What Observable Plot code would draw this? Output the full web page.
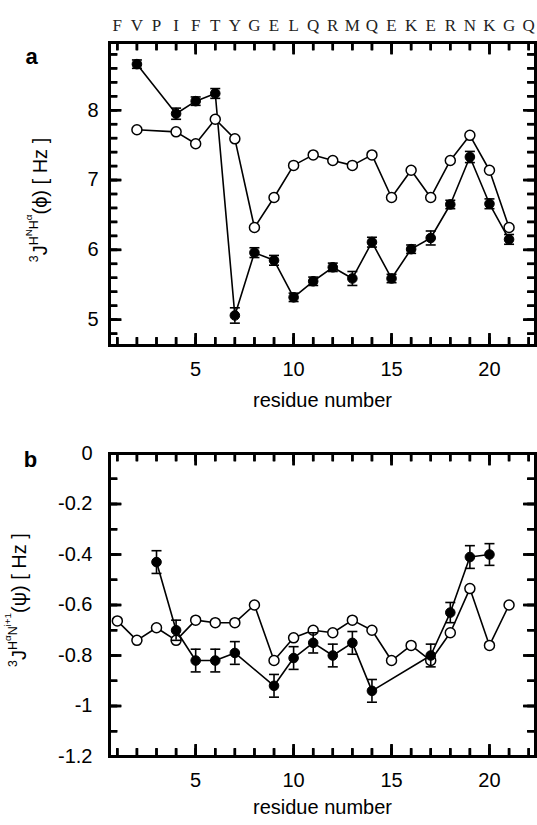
<!DOCTYPE html>
<html><head><meta charset="utf-8">
<script src="https://cdn.jsdelivr.net/npm/d3@7"></script>
<script src="https://cdn.jsdelivr.net/npm/@observablehq/plot@0.6"></script>
<style>
body{margin:0;background:#fff;}
#wrap{position:relative;width:537px;height:825px;font-family:"Liberation Sans",Arial,sans-serif;color:#000;}
.panel{position:absolute;left:0;}
.ylab{position:absolute;transform:translate(-50%,-50%) rotate(-90deg);white-space:nowrap;font-size:20px;line-height:1;}
.ylab sup{font-size:0.62em;vertical-align:0.75em;line-height:0;}
.ylab sup sup{font-size:0.8em;vertical-align:0.55em;}
</style></head>
<body><div id="wrap"></div>
<script>
// ---- data ----
const sequence = "FVPIFTYGELQRMQEKERNKGQ".split("");
const seqResidue = [1,2,3,4,5,6,7,8,9,10,11,12,13,14,15,16,17,18,19,20,21,22];

const phiResidue = [2,4,5,6,7,8,9,10,11,12,13,14,15,16,17,18,19,20,21];
const phiExp  = [8.66,7.95,8.13,8.24,5.06,5.96,5.85,5.32,5.55,5.75,5.59,6.11,5.59,6.01,6.17,6.65,7.33,6.66,6.15];
const phiErr  = [0.06,0.08,0.06,0.07,0.11,0.07,0.07,0.06,0.06,0.06,0.10,0.07,0.06,0.06,0.10,0.06,0.08,0.07,0.07];
const phiCalc = [7.72,7.69,7.52,7.87,7.59,6.32,6.75,7.21,7.36,7.28,7.21,7.36,6.75,7.14,6.75,7.28,7.64,7.14,6.32];

const psiExpResidue = [3,4,5,6,7,9,10,11,12,13,14,17,18,19,20];
const psiExp = [-0.43,-0.70,-0.82,-0.82,-0.79,-0.92,-0.81,-0.75,-0.80,-0.75,-0.94,-0.80,-0.63,-0.41,-0.40];
const psiErr = [0.045,0.04,0.045,0.045,0.045,0.045,0.045,0.04,0.045,0.045,0.045,0.045,0.04,0.045,0.043];
const psiCalcResidue = [1,2,3,4,5,6,7,8,9,10,11,12,13,14,15,16,17,18,19,20,21];
const psiCalc = [-0.663,-0.74,-0.69,-0.74,-0.66,-0.67,-0.67,-0.60,-0.82,-0.73,-0.70,-0.71,-0.66,-0.70,-0.82,-0.76,-0.82,-0.71,-0.535,-0.76,-0.60];

const xMinorTicks = [1,2,3,4,5,6,7,8,9,10,11,12,13,14,15,16,17,18,19,20,21,22];
const xMajorTicks = [5,10,15,20];
const phiMinorTicks = [4.8,5.0,5.2,5.4,5.6,5.8,6.0,6.2,6.4,6.6,6.8,7.0,7.2,7.4,7.6,7.8,8.0,8.2,8.4,8.6,8.8];
const phiMajorTicks = [5,6,7,8];
const psiMinorTicks = [-0.1,-0.2,-0.3,-0.4,-0.5,-0.6,-0.7,-0.8,-0.9,-1.0,-1.1];
const psiMajorTicks = [0,-0.2,-0.4,-0.6,-0.8,-1,-1.2];

// ---- helpers ----
const phiRows = phiResidue.map((r,i)=>({r, exp: phiExp[i], err: phiErr[i], calc: phiCalc[i]}));
const psiExpRows = psiExpResidue.map((r,i)=>({r, exp: psiExp[i], err: psiErr[i]}));
const psiCalcRows = psiCalcResidue.map((r,i)=>({r, calc: psiCalc[i]}));
const seqRows = sequence.map((s,i)=>({r: seqResidue[i], s}));

const len = s => Math.sqrt(s/Math.PI);
const capSymbol = {draw(c, s){ const w = len(s); c.moveTo(-w,0); c.lineTo(w,0); }};
const tickUp    = {draw(c, s){ c.moveTo(0,0); c.lineTo(0,-len(s)); }};
const tickDown  = {draw(c, s){ c.moveTo(0,0); c.lineTo(0, len(s)); }};
const tickRight = {draw(c, s){ c.moveTo(0,0); c.lineTo( len(s),0); }};
const tickLeft  = {draw(c, s){ c.moveTo(0,0); c.lineTo(-len(s),0); }};
const TW = 2.5, MINOR = 8, MAJOR = 12;
const W = 537, ML = 109, MR = 2, FW = W - ML - MR, FH = 303;
const xDomain = [0.6, 22.35];
const phiDomain = [4.63, 8.97];
const psiDomain = [-1.2, 0];
const ident = d => d;

function tickMarks(yDom, yMinor, yMajor){
  const [xa, xb] = xDomain, [ya, yb] = yDom;
  const kx = (xb - xa) / FW, ky = (yb - ya) / FH;
  const t = {stroke:"black", strokeWidth:TW};
  const d = {fill:"none", stroke:"black", strokeWidth:TW};
  const out = [];
  for (const [ticks, L] of [[xMinorTicks, MINOR], [xMajorTicks, MAJOR]]) {
    out.push(
      Plot.ruleX(ticks, {x:ident, y1:()=>ya, y2:()=>ya + L*ky, ...t}),
      Plot.ruleX(ticks, {x:ident, y1:()=>yb - L*ky, y2:()=>yb, ...t}),
      Plot.dot(ticks, {x:ident, y:()=>ya, symbol:tickUp, r:L, ...d}),
      Plot.dot(ticks, {x:ident, y:()=>yb, symbol:tickDown, r:L, ...d})
    );
  }
  for (const [ticks, L] of [[yMinor, MINOR], [yMajor, MAJOR]]) {
    out.push(
      Plot.ruleY(ticks, {y:ident, x1:()=>xa, x2:()=>xa + L*kx, ...t}),
      Plot.ruleY(ticks, {y:ident, x1:()=>xb - L*kx, x2:()=>xb, ...t}),
      Plot.dot(ticks, {y:ident, x:()=>xa, symbol:tickRight, r:L, ...d}),
      Plot.dot(ticks, {y:ident, x:()=>xb, symbol:tickLeft, r:L, ...d})
    );
  }
  return out;
}
function axisMarks(yMajor, yFmt, yPad){
  return [
    Plot.axisX(xMajorTicks, {anchor:"bottom", tickSize:0, tickPadding:16, fontSize:20, label:null}),
    Plot.axisY(yMajor, {anchor:"left", tickSize:0, tickPadding:yPad, fontSize:20, tickFormat:yFmt, label:null}),
    Plot.frame({strokeWidth:3})
  ];
}

const style = {fontFamily:'"Liberation Sans", Arial, sans-serif', fontSize:"20px", color:"#000", background:"#fff", overflow:"visible"};

// ---- panel a ----
const plotA = Plot.plot({
  width:W, height:420, marginLeft:ML, marginRight:MR, marginTop:42, marginBottom:75,
  style,
  x:{domain:xDomain},
  y:{domain:phiDomain},
  marks:[
    Plot.line(phiRows, {x:"r", y:"calc", stroke:"black", strokeWidth:1.6}),
    Plot.line(phiRows, {x:"r", y:"exp", stroke:"black", strokeWidth:1.6}),
    Plot.dot(phiRows, {x:"r", y:"calc", r:5, fill:"white", stroke:"black", strokeWidth:1.5}),
    Plot.ruleX(phiRows, {x:"r", y1:d=>d.exp-d.err, y2:d=>d.exp+d.err, stroke:"black", strokeWidth:1.6}),
    Plot.dot(phiRows, {x:"r", y:d=>d.exp-d.err, symbol:capSymbol, r:5, fill:"none", stroke:"black", strokeWidth:1.6}),
    Plot.dot(phiRows, {x:"r", y:d=>d.exp+d.err, symbol:capSymbol, r:5, fill:"none", stroke:"black", strokeWidth:1.6}),
    Plot.dot(phiRows, {x:"r", y:"exp", r:4.8, fill:"black", stroke:"black", strokeWidth:1}),
    ...tickMarks(phiDomain, phiMinorTicks, phiMajorTicks),
    ...axisMarks(phiMajorTicks, d=>String(d), 11),
    Plot.text(seqRows, {x:"r", text:"s", frameAnchor:"top", dy:-24, fontFamily:'"Liberation Serif", serif', fontSize:17, fill:"#222"}),
    Plot.text(["a"], {frameAnchor:"top-left", dx:-78, dy:6, fontWeight:"bold", fontSize:22, textAnchor:"middle"}),
    Plot.text(["residue number"], {frameAnchor:"bottom", dy:61, fontSize:20})
  ]
});

// ---- panel b ----
const plotB = Plot.plot({
  width:W, height:405, marginLeft:ML, marginRight:MR, marginTop:33, marginBottom:69,
  style,
  x:{domain:xDomain},
  y:{domain:psiDomain},
  marks:[
    Plot.line(psiCalcRows, {x:"r", y:"calc", stroke:"black", strokeWidth:1.6}),
    Plot.line(psiExpRows, {x:"r", y:"exp", stroke:"black", strokeWidth:1.6}),
    Plot.dot(psiCalcRows, {x:"r", y:"calc", r:5, fill:"white", stroke:"black", strokeWidth:1.5}),
    Plot.ruleX(psiExpRows, {x:"r", y1:d=>d.exp-d.err, y2:d=>d.exp+d.err, stroke:"black", strokeWidth:1.6}),
    Plot.dot(psiExpRows, {x:"r", y:d=>d.exp-d.err, symbol:capSymbol, r:5, fill:"none", stroke:"black", strokeWidth:1.6}),
    Plot.dot(psiExpRows, {x:"r", y:d=>d.exp+d.err, symbol:capSymbol, r:5, fill:"none", stroke:"black", strokeWidth:1.6}),
    Plot.dot(psiExpRows, {x:"r", y:"exp", r:4.8, fill:"black", stroke:"black", strokeWidth:1}),
    ...tickMarks(psiDomain, psiMinorTicks, psiMajorTicks),
    ...axisMarks(psiMajorTicks, d=>String(+(+d).toFixed(1)), 17),
    Plot.text(["b"], {frameAnchor:"top-left", dx:-79, dy:-2, fontWeight:"bold", fontSize:22, textAnchor:"middle"}),
    Plot.text(["residue number"], {frameAnchor:"bottom", dy:57, fontSize:20})
  ]
});

const wrap = document.getElementById("wrap");
const da = document.createElement("div"); da.className="panel"; da.style.top="0px"; da.appendChild(plotA); wrap.appendChild(da);
const db = document.createElement("div"); db.className="panel"; db.style.top="420px"; db.appendChild(plotB); wrap.appendChild(db);

const la = document.createElement("div"); la.className="ylab"; la.style.left="40px"; la.style.top="200px";
la.innerHTML = '<sup>3</sup>J<sup>H<sup>N</sup>H<sup>α</sup></sup>(ϕ) [ Hz ]';
wrap.appendChild(la);
const lb = document.createElement("div"); lb.className="ylab"; lb.style.left="19px"; lb.style.top="600px";
lb.innerHTML = '<sup>3</sup>J<sup>H<sup>α</sup>N<sup>i+1</sup></sup>(ψ) [ Hz ]';
wrap.appendChild(lb);
</script>
</body></html>
